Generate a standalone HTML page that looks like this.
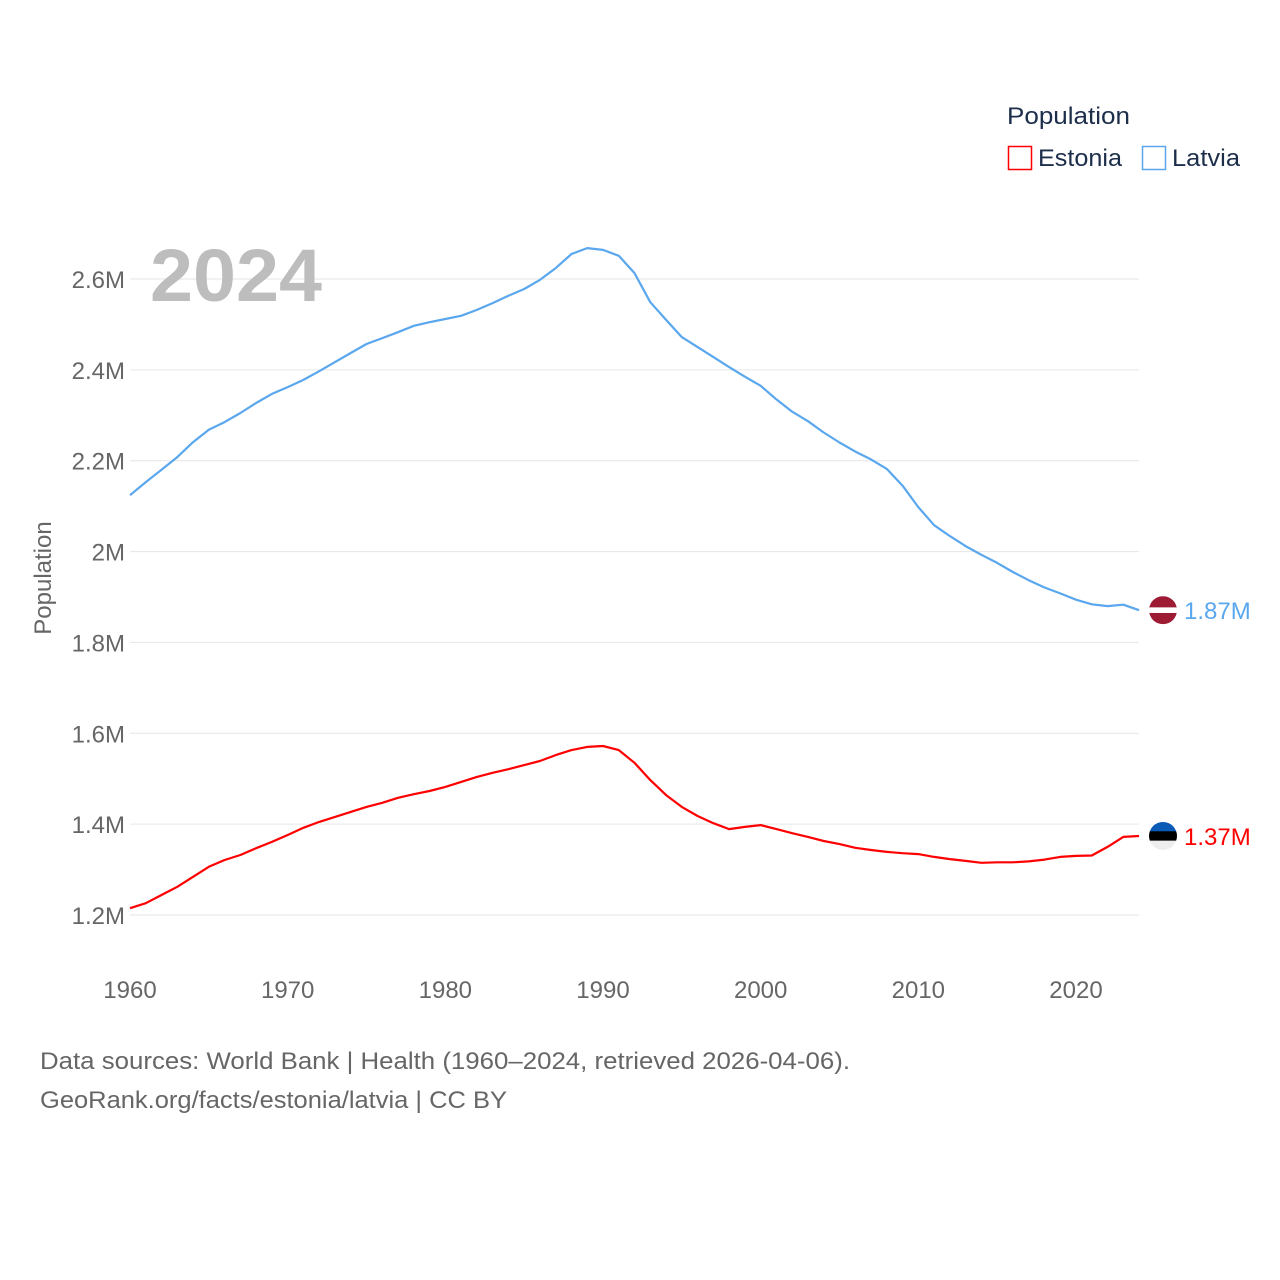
<!DOCTYPE html>
<html><head><meta charset="utf-8"><style>
body{margin:0;background:#fff;}
svg{display:block;font-family:"Liberation Sans",sans-serif;}
</style></head><body>
<svg id="chart" width="1280" height="1280" viewBox="0 0 1280 1280">
<g id="grid"></g>
<g id="yticks"></g>
<g id="xticks"></g>
<text x="150" y="301" font-size="74" font-weight="bold" fill="#bdbdbd" textLength="172" lengthAdjust="spacingAndGlyphs">2024</text>
<text transform="translate(51,578) rotate(-90)" text-anchor="middle" font-size="24" fill="#666">Population</text>
<g id="series"></g>
<g>
<text x="1007" y="124" font-size="24" fill="#1c2e4a" textLength="123" lengthAdjust="spacingAndGlyphs">Population</text>
<g>
<rect x="1008.5" y="146.5" width="23" height="23" fill="none" stroke="#ff0000" stroke-width="1.5"/>
<text x="1038" y="166" font-size="24" fill="#1c2e4a" textLength="84" lengthAdjust="spacingAndGlyphs">Estonia</text></g>
<g>
<rect x="1142.5" y="146.5" width="23" height="23" fill="none" stroke="#5aa7ee" stroke-width="1.5"/>
<text x="1172" y="166" font-size="24" fill="#1c2e4a" textLength="68" lengthAdjust="spacingAndGlyphs">Latvia</text></g>
</g>
<text x="40" y="1069" font-size="24" fill="#666" textLength="810" lengthAdjust="spacingAndGlyphs">Data sources: World Bank | Health (1960–2024, retrieved 2026-04-06).</text>
<text x="40" y="1108" font-size="24" fill="#666" textLength="467" lengthAdjust="spacingAndGlyphs">GeoRank.org/facts/estonia/latvia | CC BY</text>
</svg>
<script>
const years = [];
for (let y = 1960; y <= 2024; y++) years.push(y);
const latvia = [2.124,2.153,2.180,2.208,2.241,2.268,2.285,2.305,2.327,2.347,2.362,2.378,2.397,2.417,2.437,2.457,2.470,2.483,2.497,2.505,2.512,2.519,2.532,2.547,2.563,2.578,2.598,2.624,2.655,2.668,2.664,2.651,2.613,2.549,2.510,2.472,2.450,2.428,2.406,2.385,2.365,2.335,2.308,2.287,2.262,2.240,2.220,2.203,2.182,2.145,2.098,2.058,2.034,2.012,1.993,1.975,1.955,1.937,1.921,1.908,1.894,1.884,1.880,1.883,1.871];
const estonia = [1.215,1.226,1.244,1.262,1.284,1.306,1.321,1.332,1.347,1.361,1.376,1.392,1.405,1.416,1.427,1.438,1.447,1.458,1.466,1.473,1.482,1.493,1.504,1.513,1.521,1.530,1.539,1.552,1.563,1.570,1.572,1.563,1.535,1.497,1.464,1.438,1.418,1.402,1.389,1.394,1.398,1.389,1.380,1.372,1.363,1.356,1.348,1.343,1.339,1.336,1.334,1.328,1.323,1.319,1.315,1.316,1.316,1.318,1.322,1.328,1.330,1.331,1.350,1.372,1.374];
const yTicks = [1.2,1.4,1.6,1.8,2.0,2.2,2.4,2.6];
const yTickLabels = ["1.2M","1.4M","1.6M","1.8M","2M","2.2M","2.4M","2.6M"];
const xTicks = [1960,1970,1980,1990,2000,2010,2020];
const endLabels = ["1.37M","1.87M"];

const NS = "http://www.w3.org/2000/svg";
const X = yr => 130 + (yr - 1960) * (1076 - 130) / 60;
const Y = v => 915 - (v - 1.2) * (915 - 279) / 1.4;
function mk(tag, attrs, parent, txt) {
  const e = document.createElementNS(NS, tag);
  for (const k in attrs) e.setAttribute(k, attrs[k]);
  if (txt !== undefined) e.textContent = txt;
  parent.appendChild(e);
  return e;
}
const grid = document.getElementById('grid'), yt = document.getElementById('yticks'), xt = document.getElementById('xticks'), ser = document.getElementById('series');
yTicks.forEach((v, i) => {
  const l = mk('line', {x1:130, x2:1139, y1:Y(v), y2:Y(v), stroke:'#e6e6e6', 'stroke-width':1}, grid);
  
  
  const t = mk('text', {x:125, y:Y(v)+9, 'text-anchor':'end', 'font-size':24, fill:'#666'}, yt, yTickLabels[i]);
  
  
});
xTicks.forEach(yr => {
  const t = mk('text', {x:X(yr), y:998, 'text-anchor':'middle', 'font-size':24, fill:'#666'}, xt, yr);
  
  
});
function drawSeries(vals, color, name) {
  const d = vals.map((v, i) => (i ? 'L' : 'M') + X(years[i]).toFixed(1) + ',' + Y(v).toFixed(1)).join('');
  const p = mk('path', {d:d, fill:'none', stroke:color, 'stroke-width':2.2, 'stroke-linejoin':'round'}, ser);
  
  
}
drawSeries(latvia, '#5aa7ee', 'latvia');
drawSeries(estonia, '#ff0000', 'estonia');

function flag(cy, colors, name) {
  const g = mk('g', {}, ser);
  
  
  const cid = 'clip-' + name;
  const cp = mk('clipPath', {id:cid}, g);
  mk('circle', {cx:1163, cy:cy, r:14}, cp);
  colors.forEach((c, i) => mk('rect', {x:1149, y:cy-14+i*28/colors.length, width:28, height:28/colors.length+0.5, fill:c, 'clip-path':'url(#'+cid+')'}, g));
}
const ly = Y(latvia[latvia.length-1]), ey = Y(estonia[estonia.length-1]);
flag(ly, ['#9e1b34','#9e1b34','#ffffff','#9e1b34','#9e1b34'], 'latvia');
flag(ey, ['#0a5bb5','#000000','#eeeeee'], 'estonia');
const l1 = mk('text', {x:1184, y:ly+9, 'font-size':24, fill:'#5aa7ee'}, ser, endLabels[1]);


const l2 = mk('text', {x:1184, y:ey+9, 'font-size':24, fill:'#ff0000'}, ser, endLabels[0]);


</script>
</body></html>
